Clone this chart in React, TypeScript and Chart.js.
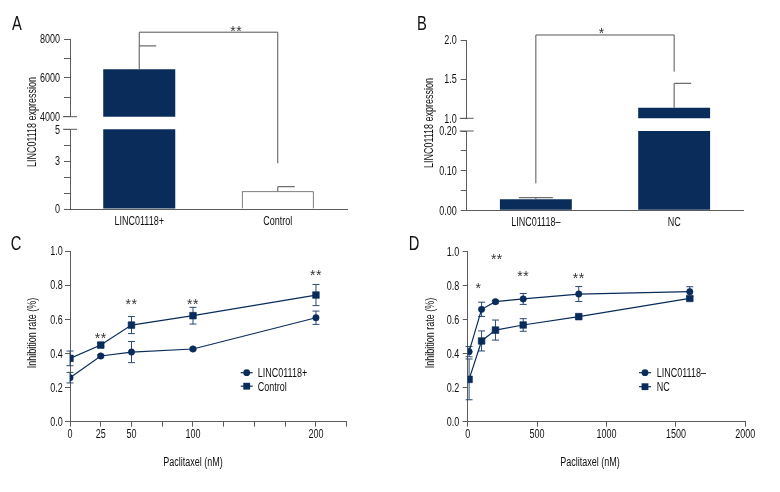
import React, { useEffect, useRef } from "react";
import { Chart, registerables } from "chart.js";

Chart.register(...registerables);

const W = 780;
const H = 492;
const FONT = "'Liberation Sans', Arial, 'DejaVu Sans', sans-serif";
const NAVY = "#0a2c5a";
const AXIS = "#5c5c5c";
const INK = "#111111";
const ERRGREY = "#6e6e6e";
const SX = 0.75; // horizontal compression to mimic a condensed face
const TICK_PX = 12;
const CAP_HALF = 0.716 * TICK_PX * 0.5;

// ---------- Panel A ----------
const aCategories = ["LINC01118+", "Control"];
const aValues = [6440, 1.11];
const aErrors = [1210, 0.29];
const aTopLabelTicks = [4000, 6000, 8000];
const aBottomLabelTicks = [0, 3, 5];
const aBracketLevel = 8350;
const aBracketRightEnd = 2.87;
const aStarY = 8600;
const aStars = "**";

// ---------- Panel B ----------
const bCategories = ["LINC01118–", "NC"];
const bValues = [0.028, 1.135];
const bErrors = [0.004, 0.31];
const bTopLabelTicks = [1.0, 1.5, 2.0];
const bBottomLabelTicks = [0, 0.1, 0.2];
const bBracketLevel = 2.064;
const bBracketLeftEnd = 0.068;
const bBracketRightEnd = 1.595;
const bStarY = 2.128;
const bStars = "*";

// ---------- Panel C ----------
const cDoses = [0, 25, 50, 100, 200];
const cLinc = [0.258, 0.385, 0.408, 0.426, 0.609];
const cLincErr = [0.031, 0.008, 0.062, 0.006, 0.039];
const cControl = [0.371, 0.449, 0.566, 0.621, 0.742];
const cControlErr = [0.043, 0.01, 0.05, 0.049, 0.062];
const cXLabelTicks = [0, 25, 50, 100, 200];
const cStarX = [25, 50, 100, 200];
const cStarY = [0.508, 0.708, 0.708, 0.877];
const cStarText = ["**", "**", "**", "**"];
const cSeriesNames = ["LINC01118+", "Control"];

// ---------- Panel D ----------
const dDoses = [10, 100, 200, 400, 800, 1600];
const dLinc = [0.412, 0.661, 0.706, 0.722, 0.751, 0.765];
const dLincErr = [0.03, 0.042, 0.008, 0.032, 0.044, 0.029];
const dNC = [0.249, 0.475, 0.539, 0.569, 0.618, 0.725];
const dNCErr = [0.12, 0.059, 0.059, 0.037, 0.01, 0.01];
const dStarX = [77, 210, 400, 800];
const dStarY = [0.808, 0.976, 0.873, 0.867];
const dStarText = ["*", "**", "**", "**"];
const dSeriesNames = ["LINC01118–", "NC"];

type Box = { l: number; r: number; t: number; b: number };

function isLabeled(list: number[], v: number) {
  return list.some((t) => Math.abs(t - v) < 1e-9);
}

function drawStars(ctx: CanvasRenderingContext2D, x: number, yCenter: number, text: string) {
  ctx.save();
  ctx.fillStyle = "#333";
  ctx.font = `14px ${FONT}`;
  (ctx as any).letterSpacing = "0.5px";
  ctx.textAlign = "center";
  ctx.textBaseline = "alphabetic";
  ctx.fillText(text, x, yCenter + 8.2);
  ctx.restore();
}

// Draws the tick labels of every visible scale (values come from the scale's own ticks & callback)
function tickLabelPlugin(xCenterOffset: number, yGap: number) {
  return {
    id: "tickLabels",
    afterDraw(chart: any) {
      const ctx: CanvasRenderingContext2D = chart.ctx;
      Object.values(chart.scales).forEach((scale: any) => {
        if (scale.options.display === false) return;
        const cb = scale.options.ticks.callback;
        scale.ticks.forEach((tick: any, i: number) => {
          const label = cb.call(scale, tick.value, i, scale.ticks);
          if (label === "" || label === null || label === undefined) return;
          const p = scale.getPixelForTick(i);
          ctx.save();
          ctx.fillStyle = INK;
          ctx.font = `${TICK_PX}px ${FONT}`;
          ctx.textBaseline = "alphabetic";
          if (scale.isHorizontal()) {
            ctx.textAlign = "center";
            ctx.translate(p, scale.top + xCenterOffset + CAP_HALF);
          } else {
            ctx.textAlign = "right";
            ctx.translate(scale.right - yGap, p + CAP_HALF);
          }
          ctx.scale(SX, 1);
          ctx.fillText(String(label), 0, 0);
          ctx.restore();
        });
      });
    },
  };
}

function breakPlugin(edge: "top" | "bottom") {
  return {
    id: "breakMark",
    afterDraw(chart: any) {
      const { ctx, chartArea } = chart;
      const y = edge === "top" ? chartArea.top : chartArea.bottom;
      ctx.save();
      ctx.strokeStyle = AXIS;
      ctx.lineWidth = 1;
      ctx.beginPath();
      ctx.moveTo(chartArea.left - 7, y);
      ctx.lineTo(chartArea.left + 7, y);
      ctx.stroke();
      ctx.restore();
    },
  };
}

function barErrorPlugin(values: number[], errors: number[], caps: [number, number][]) {
  return {
    id: "barErr",
    afterDatasetsDraw(chart: any) {
      const { ctx } = chart;
      const ys = chart.scales.y;
      const meta = chart.getDatasetMeta(0);
      values.forEach((v, i) => {
        if (v < ys.min || v > ys.max) return;
        const x = meta.data[i].x;
        const y0 = ys.getPixelForValue(v);
        const y1 = ys.getPixelForValue(v + errors[i]);
        ctx.save();
        ctx.strokeStyle = ERRGREY;
        ctx.lineWidth = 1.2;
        ctx.beginPath();
        ctx.moveTo(x, y0);
        ctx.lineTo(x, y1);
        ctx.moveTo(x + caps[i][0], y1);
        ctx.lineTo(x + caps[i][1], y1);
        ctx.stroke();
        ctx.restore();
      });
    },
  };
}

function barSegment(
  canvas: HTMLCanvasElement,
  cats: string[],
  values: number[],
  fills: string[],
  borders: string[],
  borderWidths: number[],
  box: Box,
  yMin: number,
  yMax: number,
  yStep: number,
  labelList: number[],
  digits: number,
  showX: boolean,
  plugins: any[]
) {
  const yW = 60;
  const xH = showX ? 30 : 0;
  return new Chart(canvas, {
    type: "bar",
    data: {
      labels: cats,
      datasets: [
        {
          data: values,
          backgroundColor: fills,
          borderColor: borders,
          borderWidth: borderWidths,
          barPercentage: 0.52,
          categoryPercentage: 1,
          clip: 0,
        } as any,
      ],
    },
    options: {
      animation: false,
      responsive: false,
      devicePixelRatio: 1,
      layout: { padding: { left: box.l - yW, right: W - box.r, top: box.t, bottom: H - box.b - xH } },
      plugins: { legend: { display: false }, tooltip: { enabled: false } },
      scales: {
        x: {
          display: showX,
          grid: { display: false, drawTicks: false },
          border: { display: true, color: AXIS, width: 1 },
          ticks: { display: false },
          afterFit: (s: any) => {
            s.height = xH;
          },
        },
        y: {
          min: yMin,
          max: yMax,
          ticks: {
            display: false,
            stepSize: yStep,
            autoSkip: false,
            callback: (v: any) => (isLabeled(labelList, Number(v)) ? Number(v).toFixed(digits) : ""),
          },
          grid: { drawOnChartArea: false, drawTicks: true, tickLength: 6, color: AXIS },
          border: { display: true, color: AXIS, width: 1 },
          afterFit: (s: any) => {
            s.width = yW;
          },
        },
      },
    } as any,
    plugins: [tickLabelPlugin(11.3, 10), ...plugins],
  });
}

function lineErrorPlugin(series: { xs: number[]; vals: number[]; errs: number[] }[]) {
  return {
    id: "lineErr",
    beforeDatasetsDraw(chart: any) {
      const { ctx } = chart;
      const xs = chart.scales.x;
      const ys = chart.scales.y;
      ctx.save();
      ctx.strokeStyle = "#2b4a72";
      ctx.lineWidth = 1;
      series.forEach((s) => {
        s.xs.forEach((xv, i) => {
          const x = xs.getPixelForValue(xv);
          const yT = ys.getPixelForValue(s.vals[i] + s.errs[i]);
          const yB = ys.getPixelForValue(s.vals[i] - s.errs[i]);
          ctx.beginPath();
          ctx.moveTo(x, yT);
          ctx.lineTo(x, yB);
          ctx.moveTo(x - 3.5, yT);
          ctx.lineTo(x + 3.5, yT);
          ctx.moveTo(x - 3.5, yB);
          ctx.lineTo(x + 3.5, yB);
          ctx.stroke();
        });
      });
      ctx.restore();
    },
  };
}

function starsPlugin(xsv: number[], ysv: number[], texts: string[]) {
  return {
    id: "stars",
    afterDraw(chart: any) {
      const xs = chart.scales.x;
      const ys = chart.scales.y;
      xsv.forEach((xv, i) => {
        drawStars(chart.ctx, xs.getPixelForValue(xv), ys.getPixelForValue(ysv[i]), texts[i]);
      });
    },
  };
}

function legendPlugin(pos: { x0: number; x1: number; tx: number; ys: number[] }) {
  return {
    id: "customLegend",
    afterDraw(chart: any) {
      const { ctx } = chart;
      chart.data.datasets.forEach((ds: any, i: number) => {
        const y = pos.ys[i];
        const cx = (pos.x0 + pos.x1) / 2;
        ctx.save();
        ctx.strokeStyle = NAVY;
        ctx.fillStyle = NAVY;
        ctx.lineWidth = 1.2;
        ctx.beginPath();
        ctx.moveTo(pos.x0, y);
        ctx.lineTo(pos.x1, y);
        ctx.stroke();
        ctx.beginPath();
        if (ds.pointStyle === "rect") {
          ctx.rect(cx - 3.4, y - 3.4, 6.8, 6.8);
        } else {
          ctx.arc(cx, y, 3.4, 0, Math.PI * 2);
        }
        ctx.fill();
        ctx.fillStyle = INK;
        ctx.font = `12px ${FONT}`;
        ctx.textAlign = "left";
        ctx.textBaseline = "alphabetic";
        ctx.translate(pos.tx, y + 4.3);
        ctx.scale(SX, 1);
        ctx.fillText(ds.label, 0, 0);
        ctx.restore();
      });
    },
  };
}

function lineChart(
  canvas: HTMLCanvasElement,
  box: Box,
  xMin: number,
  xMax: number,
  xStep: number,
  xLabels: number[] | null,
  yGap: number,
  datasets: any[],
  plugins: any[]
) {
  const yW = 60;
  const xH = 50;
  return new Chart(canvas, {
    type: "line",
    data: { datasets },
    options: {
      animation: false,
      responsive: false,
      devicePixelRatio: 1,
      layout: { padding: { left: box.l - yW, right: W - box.r, top: box.t, bottom: H - box.b - xH } },
      plugins: { legend: { display: false }, tooltip: { enabled: false } },
      scales: {
        x: {
          type: "linear",
          min: xMin,
          max: xMax,
          ticks: {
            display: false,
            stepSize: xStep,
            autoSkip: false,
            callback: (v: any) => (xLabels === null || isLabeled(xLabels, Number(v)) ? String(v) : ""),
          },
          grid: { drawOnChartArea: false, drawTicks: true, tickLength: 5, color: AXIS },
          border: { display: true, color: AXIS, width: 1 },
          afterFit: (s: any) => {
            s.height = xH;
          },
        },
        y: {
          min: 0,
          max: 1,
          ticks: {
            display: false,
            stepSize: 0.2,
            autoSkip: false,
            callback: (v: any) => Number(v).toFixed(1),
          },
          grid: { drawOnChartArea: false, drawTicks: true, tickLength: 5, color: AXIS },
          border: { display: true, color: AXIS, width: 1 },
          afterFit: (s: any) => {
            s.width = yW;
          },
        },
      },
    } as any,
    plugins: [tickLabelPlugin(11.6, yGap), ...plugins],
  });
}

function series(label: string, xs: number[], ys: number[], style: string) {
  return {
    label,
    data: xs.map((x, i) => ({ x, y: ys[i] })),
    borderColor: NAVY,
    backgroundColor: NAVY,
    pointBackgroundColor: NAVY,
    pointBorderColor: NAVY,
    borderWidth: 1.2,
    pointStyle: style,
    pointRadius: style === "rect" ? 4.7 : 3.2,
    pointBorderWidth: 0.6,
    tension: 0,
  };
}

function drawBracket(
  ctx: CanvasRenderingContext2D,
  xL: number,
  yL: number,
  xR: number,
  yR: number,
  yLevel: number
) {
  ctx.save();
  ctx.strokeStyle = "#555";
  ctx.lineWidth = 1;
  ctx.beginPath();
  ctx.moveTo(xL, yL);
  ctx.lineTo(xL, yLevel);
  ctx.lineTo(xR, yLevel);
  ctx.lineTo(xR, yR);
  ctx.stroke();
  ctx.restore();
}

const boxes = {
  aTop: { l: 70, r: 347, t: 39, b: 116.7 },
  aBot: { l: 70, r: 347, t: 129.3, b: 209 },
  bTop: { l: 466.7, r: 743.3, t: 40, b: 118.3 },
  bBot: { l: 466.7, r: 743.3, t: 131, b: 210.3 },
  c: { l: 70, r: 346.7, t: 251, b: 421.7 },
  d: { l: 467.7, r: 745.3, t: 251.7, b: 421.7 },
};

const overlayTexts = [
  { t: "A", x: 17, y: 21.5, size: 21, rot: false, sx: 0.7 },
  { t: "B", x: 422, y: 21.5, size: 21, rot: false, sx: 0.7 },
  { t: "C", x: 16, y: 241.5, size: 21, rot: false, sx: 0.7 },
  { t: "D", x: 414, y: 241.5, size: 21, rot: false, sx: 0.7 },
  { t: "LINC01118 expression", x: 32.3, y: 121.7, size: 12, rot: true, sx: SX },
  { t: "LINC01118 expression", x: 429.3, y: 122.5, size: 12, rot: true, sx: SX },
  { t: "Inhibition rate (%)", x: 32.3, y: 333.3, size: 12, rot: true, sx: SX },
  { t: "Inhibition rate (%)", x: 430, y: 333.3, size: 12, rot: true, sx: SX },
  { t: "Paclitaxel (nM)", x: 192.8, y: 461.7, size: 12, rot: false, sx: SX },
  { t: "Paclitaxel (nM)", x: 590.3, y: 461.7, size: 12, rot: false, sx: SX },
];

export default function App() {
  const r0 = useRef<HTMLCanvasElement>(null);
  const r1 = useRef<HTMLCanvasElement>(null);
  const r2 = useRef<HTMLCanvasElement>(null);
  const r3 = useRef<HTMLCanvasElement>(null);
  const r4 = useRef<HTMLCanvasElement>(null);
  const r5 = useRef<HTMLCanvasElement>(null);

  useEffect(() => {
    const charts: Chart[] = [];

    // Panel A
    const aBottom = barSegment(
      r1.current!, aCategories, aValues, [NAVY, "#ffffff"], [NAVY, "#333333"], [0, 1],
      boxes.aBot, 0, 5, 1, aBottomLabelTicks, 0, true,
      [breakPlugin("top"), barErrorPlugin(aValues, aErrors, [[0, 17], [0, 17]])]
    );
    const aBracket = {
      id: "aBracket",
      afterDraw(chart: any) {
        const meta = chart.getDatasetMeta(0);
        const ys = chart.scales.y;
        const xL = meta.data[0].x;
        const xR = meta.data[1].x;
        const yLevel = ys.getPixelForValue(aBracketLevel);
        drawBracket(
          chart.ctx, xL, ys.getPixelForValue(aValues[0] + aErrors[0]), xR,
          aBottom.scales.y.getPixelForValue(aBracketRightEnd), yLevel
        );
        drawStars(chart.ctx, xL + (xR - xL) * 0.7, ys.getPixelForValue(aStarY), aStars);
      },
    };
    const aTop = barSegment(
      r0.current!, aCategories, aValues, [NAVY, "#ffffff"], [NAVY, "#333333"], [0, 1],
      boxes.aTop, 4000, 8000, 1000, aTopLabelTicks, 0, false,
      [breakPlugin("bottom"), barErrorPlugin(aValues, aErrors, [[0, 17], [0, 17]]), aBracket]
    );
    charts.push(aBottom, aTop);

    // Panel B
    const bBottom = barSegment(
      r3.current!, bCategories, bValues, [NAVY, NAVY], [NAVY, NAVY], [0, 0],
      boxes.bBot, 0, 0.2, 0.05, bBottomLabelTicks, 2, true,
      [breakPlugin("top"), barErrorPlugin(bValues, bErrors, [[-17, 17], [0, 17]])]
    );
    const bBracket = {
      id: "bBracket",
      afterDraw(chart: any) {
        const meta = chart.getDatasetMeta(0);
        const ys = chart.scales.y;
        const xL = meta.data[0].x;
        const xR = meta.data[1].x;
        const yLevel = ys.getPixelForValue(bBracketLevel);
        drawBracket(
          chart.ctx, xL, bBottom.scales.y.getPixelForValue(bBracketLeftEnd), xR,
          ys.getPixelForValue(bBracketRightEnd), yLevel
        );
        drawStars(chart.ctx, xL + (xR - xL) * 0.476, ys.getPixelForValue(bStarY), bStars);
      },
    };
    const bTop = barSegment(
      r2.current!, bCategories, bValues, [NAVY, NAVY], [NAVY, NAVY], [0, 0],
      boxes.bTop, 1, 2, 0.5, bTopLabelTicks, 1, false,
      [breakPlugin("bottom"), barErrorPlugin(bValues, bErrors, [[-17, 17], [0, 17]]), bBracket]
    );
    charts.push(bBottom, bTop);

    // Panel C
    const cChart = lineChart(
      r4.current!, boxes.c, 0, 225, 25, cXLabelTicks, 7.3,
      [series(cSeriesNames[0], cDoses, cLinc, "circle"), series(cSeriesNames[1], cDoses, cControl, "rect")],
      [
        lineErrorPlugin([
          { xs: cDoses, vals: cLinc, errs: cLincErr },
          { xs: cDoses, vals: cControl, errs: cControlErr },
        ]),
        starsPlugin(cStarX, cStarY, cStarText),
        legendPlugin({ x0: 240.7, x1: 252.7, tx: 257.7, ys: [372.7, 386.2] }),
      ]
    );
    charts.push(cChart);

    // Panel D
    const dChart = lineChart(
      r5.current!, boxes.d, 0, 2000, 500, null, 8.5,
      [series(dSeriesNames[0], dDoses, dLinc, "circle"), series(dSeriesNames[1], dDoses, dNC, "rect")],
      [
        lineErrorPlugin([
          { xs: dDoses, vals: dLinc, errs: dLincErr },
          { xs: dDoses, vals: dNC, errs: dNCErr },
        ]),
        starsPlugin(dStarX, dStarY, dStarText),
        legendPlugin({ x0: 639, x1: 651, tx: 656.7, ys: [372.7, 386.7] }),
      ]
    );
    charts.push(dChart);

    return () => {
      charts.forEach((c) => c.destroy());
    };
  }, []);

  const canvasStyle: React.CSSProperties = { position: "absolute", left: 0, top: 0, width: W, height: H };

  return (
    <div
      style={{
        position: "fixed",
        left: 0,
        top: 0,
        width: W,
        height: H,
        background: "#ffffff",
        overflow: "hidden",
        fontFamily: FONT,
      }}
    >
      {[r0, r1, r2, r3, r4, r5].map((r, i) => (
        <canvas key={i} ref={r} width={W} height={H} style={canvasStyle} />
      ))}
      {overlayTexts.map((o, i) => (
        <div
          key={"t" + i}
          style={{
            position: "absolute",
            left: o.x,
            top: o.y,
            transform: `translate(-50%, -50%)${o.rot ? " rotate(-90deg)" : ""} scaleX(${o.sx})`,
            fontSize: o.size,
            lineHeight: 1,
            whiteSpace: "nowrap",
            color: "#111",
            fontFamily: FONT,
          }}
        >
          {o.t}
        </div>
      ))}
    </div>
  );
}
